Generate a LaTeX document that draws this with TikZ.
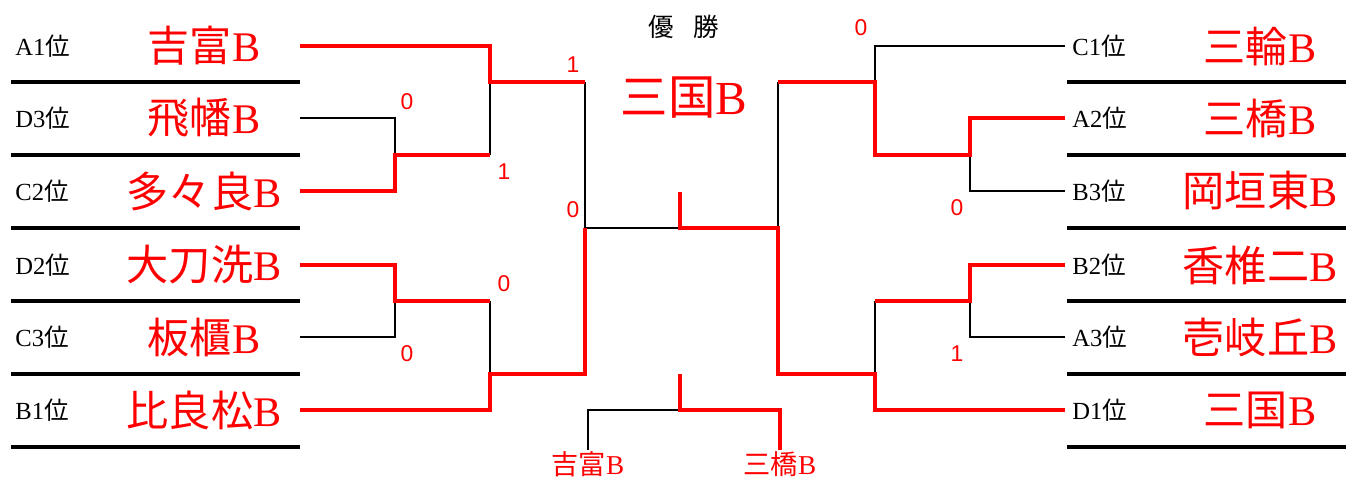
\documentclass[tikz,border=0pt]{standalone}
\usepackage{fontspec}
\setmainfont{Liberation Serif}
\setsansfont{Liberation Sans}
\newfontfamily\jpfont{Noto Sans CJK JP}
\usetikzlibrary{positioning}
\newcommand{\teamName}[1]{{\jpfont #1}B}
\newcommand{\rankName}[1]{#1{\jpfont 位}}

\begin{document}
\begin{tikzpicture}[x=0.02cm, y=-0.02cm]
	%defines
	\tikzstyle{rank}  = [anchor=west, inner sep=0pt, font=\fontsize{14}{14}\selectfont]
	\tikzstyle{team}  = [text=red, inner sep=0pt, font=\fontsize{24}{24}\selectfont]
	\tikzstyle{small} = [text=red, inner sep=0.5pt, anchor=north, font=\fontsize{15.5}{15.5}\selectfont]
	\tikzstyle{score} = [text=red, inner sep=0pt, font=\sffamily\fontsize{13}{13}\selectfont]
	\tikzstyle{ruleLine} = [line width=1.8pt]
	\tikzstyle{lost} = [line width=1.4pt]
	\tikzstyle{won}  = [red, line width=2.8pt]
	\useasboundingbox (0,0) rectangle (1346,480);
	%table
	\foreach \y in {82,155,228,301,374,447} {
		\draw [ruleLine] (11,\y) -- (300,\y);
		\draw [ruleLine] (1067,\y) -- (1346,\y);
	}
	\foreach \y [count=\i] in {46,118,191,265,337,410} {
		\coordinate (lT\i) at (300,\y);
		\coordinate (rT\i) at (1065,\y);
	}
	%left block
	\node (rankA1) [rank] at (15,46)  {\rankName{A1}};
	\node (rankD3) [rank] at (15,118) {\rankName{D3}};
	\node (rankC2) [rank] at (15,191) {\rankName{C2}};
	\node (rankD2) [rank] at (15,265) {\rankName{D2}};
	\node (rankC3) [rank] at (15,337) {\rankName{C3}};
	\node (rankB1) [rank] at (15,410) {\rankName{B1}};
	\node (yoshitomi) [team] at (204,46)  {\teamName{吉富}};
	\node (hiwata)    [team] at (204,118) {\teamName{飛幡}};
	\node (tatara)    [team] at (204,191) {\teamName{多々良}};
	\node (tachiarai) [team] at (204,265) {\teamName{大刀洗}};
	\node (itabitsu)  [team] at (204,337) {\teamName{板櫃}};
	\node (hiramatsu) [team] at (204,410) {\teamName{比良松}};
	%right block
	\node (rankC1) [rank] at (1072,46)  {\rankName{C1}};
	\node (rankA2) [rank] at (1072,118) {\rankName{A2}};
	\node (rankB3) [rank] at (1072,191) {\rankName{B3}};
	\node (rankB2) [rank] at (1072,265) {\rankName{B2}};
	\node (rankA3) [rank] at (1072,337) {\rankName{A3}};
	\node (rankD1) [rank] at (1072,410) {\rankName{D1}};
	\node (miwa)       [team] at (1260,46)  {\teamName{三輪}};
	\node (mitsuhashi) [team] at (1260,118) {\teamName{三橋}};
	\node (okagaki)    [team] at (1260,191) {\teamName{岡垣東}};
	\node (kashii)     [team] at (1260,265) {\teamName{香椎二}};
	\node (ikioka)     [team] at (1260,337) {\teamName{壱岐丘}};
	\node (mikuni)     [team] at (1260,410) {\teamName{三国}};
	%centre
	\node (title)    [inner sep=0pt, font=\jpfont\fontsize{14.5}{14.5}\selectfont] at (684,27) {優\hspace{0.75em}勝};
	\node (champion) [team, font=\fontsize{27}{27}\selectfont] at (684,98) {\teamName{三国}};
	\node (thirdLeft)  [small] at (588,450) {\teamName{吉富}};
	\node (thirdRight) [small] at (780,450) {\teamName{三橋}};
	%junctions
	\coordinate (lA) at (395,155); \coordinate (lAout) at (490,155);
	\coordinate (lB) at (395,301); \coordinate (lBout) at (490,301);
	\coordinate (lC) at (490,82);  \coordinate (lCout) at (585,82);
	\coordinate (lD) at (490,374); \coordinate (lDout) at (585,374);
	\coordinate (lS) at (585,228);
	\coordinate (rA) at (970,155); \coordinate (rAout) at (875,155);
	\coordinate (rB) at (970,301); \coordinate (rBout) at (875,301);
	\coordinate (rC) at (875,82);  \coordinate (rCout) at (778,82);
	\coordinate (rD) at (875,374); \coordinate (rDout) at (778,374);
	\coordinate (rS) at (778,228);
	\coordinate (fin) at (680,228); \coordinate (champ) at (680,192);
	\coordinate (th) at (680,410);  \coordinate (thTop) at (680,374);
	%bracket
	\draw [lost] (lT2) -| (lA);
	\draw [lost] (lAout) -- (lC);
	\draw [lost] (lT5) -| (lB);
	\draw [lost] (lBout) -- (lD);
	\draw [lost] (lCout) -- (lS) -- (fin);
	\draw [lost] (rT1) -| (rC);
	\draw [lost] (rT3) -| (rA);
	\draw [lost] (rT5) -| (rB);
	\draw [lost] (rBout) -- (rD);
	\draw [lost] (rCout) -- (rS);
	\draw [lost] (thirdLeft.north) |- (th);
	\draw [won] (lT3) -| (lA) -- (lAout);
	\draw [won] (lT1) -| (lC) -- (lCout);
	\draw [won] (lT4) -| (lB) -- (lBout);
	\draw [won] (lT6) -| (lD) -- (lDout) -- (lS);
	\draw [won] (rT2) -| (rA) -- (rAout) -- (rC) -- (rCout);
	\draw [won] (rT4) -| (rB) -- (rBout);
	\draw [won] (rT6) -| (rD) -- (rDout) -- (rS) -- (fin) -- (champ);
	\draw [won] (thirdRight.north) |- (th) -- (thTop);
	%scores
	\node (scoreHiwata)   [score] at (407,102) {0};
	\node (scoreTatara)   [score] at (504,172) {1};
	\node (scoreYoshi)    [score] at (573,65)  {1};
	\node (scoreHira)     [score] at (573,210) {0};
	\node (scoreTachi)    [score] at (504,284) {0};
	\node (scoreItabitsu) [score] at (407,354) {0};
	\node (scoreMiwa)     [score] at (861,28)  {0};
	\node (scoreOkagaki)  [score] at (957,208) {0};
	\node (scoreIkioka)   [score] at (957,354) {1};
\end{tikzpicture}
\end{document}
